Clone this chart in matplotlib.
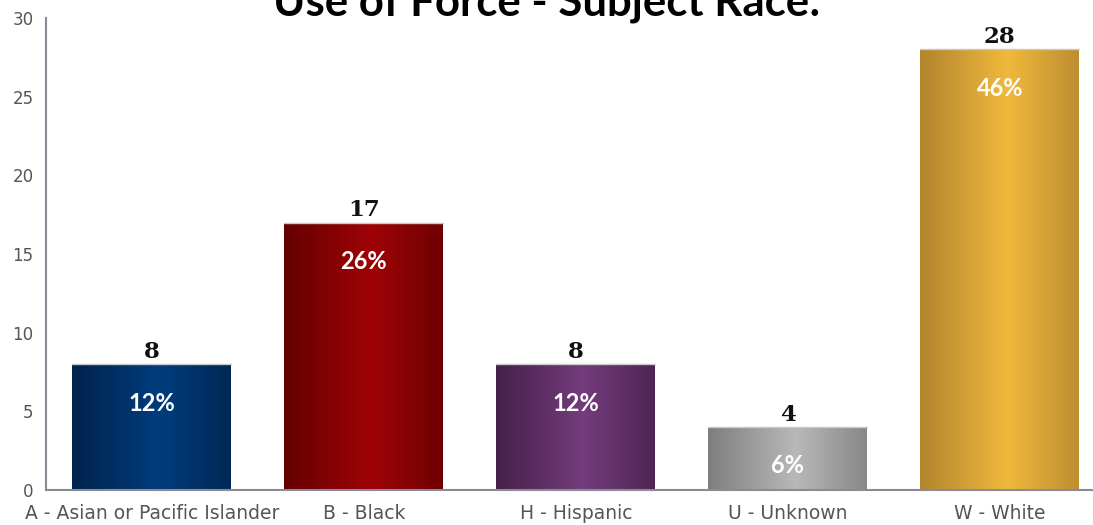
import numpy as np
import matplotlib.pyplot as plt
from matplotlib.colors import LinearSegmentedColormap

categories = ['A - Asian or Pacific Islander', 'B - Black', 'H - Hispanic',
              'U - Unknown', 'W - White']
counts = [8, 17, 8, 4, 28]
percents = ['12%', '26%', '12%', '6%', '46%']
# (edge colour, centre colour) for the cylinder-like gradient
bar_colors = [('#01224d', '#003d7c'), ('#640000', '#9e0306'),
              ('#452049', '#733c7c'), ('#7e7e7e', '#b8b8b8'),
              ('#b2852e', '#f0b83c')]

fig = plt.figure(figsize=(10.93, 5.25), dpi=100)
ax = fig.add_axes([0.042, 0.0667, 0.958, 0.899])

x = np.arange(len(categories))
bars = ax.bar(x, counts, width=0.75, color='none', edgecolor='none', zorder=2)

grad = np.linspace(0, 1, 256)
grad = 1 - np.abs(grad - 0.55) / 0.55
grad = np.clip(grad, 0, 1).reshape(1, -1)
for bar, (edge, mid) in zip(bars, bar_colors):
    cmap = LinearSegmentedColormap.from_list('g', [edge, mid])
    x0, y0 = bar.get_x(), bar.get_y()
    im = ax.imshow(grad, cmap=cmap, aspect='auto', zorder=2,
                   extent=[x0, x0 + bar.get_width(), y0, y0 + bar.get_height()])
    im.set_clip_path(bar)
    ax.plot([x0, x0 + bar.get_width()], [bar.get_height()] * 2,
            color='#c8c8c8', lw=1, zorder=3)

for xi, c, p in zip(x, counts, percents):
    ax.annotate(str(c), (xi, c), xytext=(0, 1), textcoords='offset points',
                ha='center', va='bottom', fontsize=16.5, fontweight='bold',
                family='DejaVu Serif', color='#111111')
    ax.annotate(p, (xi, c), xytext=(0, -28), textcoords='offset points',
                ha='center', va='center', fontsize=17, fontweight='bold',
                family='Lato', color='white')

ax.set_xlim(-0.5, 4.44)
ax.set_ylim(0, 30)
ax.set_yticks([0, 5, 10, 15, 20, 25, 30])
ax.set_xticks(x)
ax.set_xticklabels(categories)
ax.tick_params(axis='both', length=0, labelsize=12, colors='#555555')
ax.tick_params(axis='x', pad=10, labelsize=13.5)
ax.tick_params(axis='y', pad=9)
for s in ['top', 'right']:
    ax.spines[s].set_visible(False)
for s in ['left', 'bottom']:
    ax.spines[s].set_color('#8a8a99')
    ax.spines[s].set_linewidth(1.5)

fig.text(0.5, 0.971, 'Use of Force - Subject Race:', ha='center',
         va='baseline', fontsize=31.5, fontweight='bold', family='Lato')

fig.savefig('out.png', dpi=100)
